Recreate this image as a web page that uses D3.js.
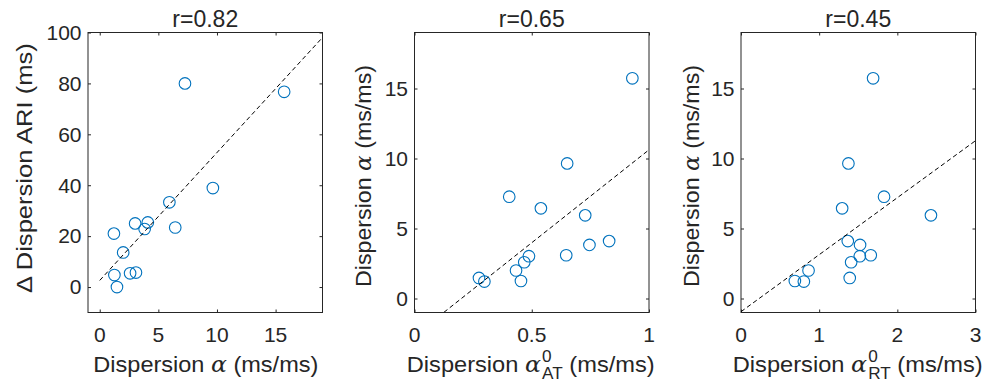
<!DOCTYPE html>
<html>
<head>
<meta charset="utf-8">
<script src="https://cdn.jsdelivr.net/npm/d3@7"></script>
<style>
html,body{margin:0;padding:0;background:#fff;}
svg{display:block;}
text{font-family:"Liberation Sans",Arial,Helvetica,sans-serif;fill:#262626;white-space:pre;}
</style>
</head>
<body>
<svg id="chart" width="1000" height="392"></svg>
<script>
// ---------------- data ----------------
const alphaDisp = [15.73, 9.65, 7.27, 6.44, 5.94, 4.10, 3.83, 3.09, 3.02, 2.59, 2.00, 1.47, 1.25, 1.21];
const ariDisp   = [76.7, 38.9, 80.0, 23.4, 33.3, 25.4, 22.8, 5.7, 25.0, 5.4, 13.6, 0.0, 4.7, 21.0];
const alphaAT   = [0.929, 0.651, 0.404, 0.539, 0.728, 0.830, 0.746, 0.647, 0.488, 0.468, 0.433, 0.275, 0.454, 0.298];
const alphaRT   = [1.69, 1.374, 1.83, 1.294, 2.43, 1.366, 1.523, 1.66, 1.52, 1.409, 0.864, 1.391, 0.689, 0.804];

const titles = ["r=0.82", "r=0.65", "r=0.45"];
const xTicks1 = [0, 5, 10, 15];
const yTicks1 = [0, 20, 40, 60, 80, 100];
const xTicks2 = [0, 0.5, 1];
const xTicks3 = [0, 1, 2, 3];
const yTicks23 = [0, 5, 10, 15];
const xDomain1 = [-1, 19], yDomain1 = [-10, 100];
const xDomain2 = [0, 1],   yDomain2 = [-1, 19];
const xDomain3 = [0, 3],   yDomain3 = [-1, 19];

// ---------------- layout ----------------
const svg = d3.select("#chart");
const plotTop = 32.5, plotBottom = 312.5;
const panelW = 234.5;
const lefts = [88, 414.5, 741];
const blue = "#0072BD", ink = "#262626";
const FS = 21, LFS = 22;

const panels = [
  {x: alphaDisp, y: ariDisp, xd: xDomain1, yd: yDomain1, xt: xTicks1, yt: yTicks1, title: titles[0],
   xl: {pre: "Dispersion ", sym: "α", post: " (ms/ms)", len: 225, dx: 0.6},
   yl: {pre: "Δ Dispersion ARI (ms)", len: 250, cx: 31.5, cy: 168}},
  {x: alphaAT, y: alphaDisp, xd: xDomain2, yd: yDomain2, xt: xTicks2, yt: yTicks23, title: titles[1],
   xl: {pre: "Dispersion ", sym: "α", sup: "0", sub: "AT", post: " (ms/ms)", len: 248, dx: -1},
   yl: {pre: "Dispersion ", sym: "α", post: " (ms/ms)", len: 222, cx: 371, cy: 176}},
  {x: alphaRT, y: alphaDisp, xd: xDomain3, yd: yDomain3, xt: xTicks3, yt: yTicks23, title: titles[2],
   xl: {pre: "Dispersion ", sym: "α", sup: "0", sub: "RT", post: " (ms/ms)", len: 250, dx: -0.5},
   yl: {pre: "Dispersion ", sym: "α", post: " (ms/ms)", len: 222, cx: 699, cy: 176}}
];

function makeLabel(parent, spec, cx, cy, rot) {
  const g = parent.append("g");
  const inner = g.append("g");
  let x = 0;
  function add(txt, size, dy, style) {
    const t = inner.append("text").attr("x", x).attr("y", dy)
      .attr("xml:space", "preserve").style("font-size", size + "px").text(txt);
    if (style) for (const k in style) t.style(k, style[k]);
    return t.node().getComputedTextLength();
  }
  x += add(spec.pre, LFS, 0);
  if (spec.sym) {
    x += add(spec.sym, LFS, 0, {"font-family": "'DejaVu Serif','Liberation Serif',serif", "font-style": "italic"});
  }
  if (spec.sup || spec.sub) {
    x += 1;
    const w1 = add(spec.sup, 16, -10);
    const w2 = add(spec.sub, 16, 7);
    x += Math.max(w1, w2);
  }
  if (spec.post) x += add(spec.post, LFS, 0);
  const s = spec.len / x;
  inner.attr("transform", `scale(${s},1) translate(${-x / 2},0)`);
  g.attr("transform", `translate(${cx},${cy}) rotate(${rot})`);
}

panels.forEach((p, i) => {
  const L = lefts[i], R = L + panelW;
  const xs = d3.scaleLinear().domain(p.xd).range([L, R]);
  const ys = d3.scaleLinear().domain(p.yd).range([plotBottom, plotTop]);
  const g = svg.append("g");

  const clipId = "clip" + i;
  svg.append("clipPath").attr("id", clipId).append("rect")
    .attr("x", L).attr("y", plotTop).attr("width", panelW).attr("height", plotBottom - plotTop);

  // frame
  g.append("rect").attr("x", L).attr("y", plotTop).attr("width", panelW).attr("height", plotBottom - plotTop)
    .attr("fill", "none").attr("stroke", ink).attr("stroke-width", 1);

  // ticks (inward, all four sides) via d3 axes
  const tl = 3;
  const axB = g.append("g").attr("transform", `translate(0,${plotBottom})`)
    .call(d3.axisTop(xs).tickValues(p.xt).tickSize(tl).tickFormat(""));
  const axT = g.append("g").attr("transform", `translate(0,${plotTop})`)
    .call(d3.axisBottom(xs).tickValues(p.xt).tickSize(tl).tickFormat(""));
  const axL = g.append("g").attr("transform", `translate(${L},0)`)
    .call(d3.axisRight(ys).tickValues(p.yt).tickSize(tl).tickFormat(""));
  const axR = g.append("g").attr("transform", `translate(${R},0)`)
    .call(d3.axisLeft(ys).tickValues(p.yt).tickSize(tl).tickFormat(""));
  [axB, axT, axL, axR].forEach(a => { a.select(".domain").remove(); a.selectAll("line").attr("stroke", ink); });

  // tick labels
  g.selectAll(".xtl").data(p.xt).enter().append("text")
    .attr("x", d => xs(d)).attr("y", 342).attr("text-anchor", "middle")
    .style("font-size", FS + "px").text(d => d3.format("~g")(d));
  g.selectAll(".ytl").data(p.yt).enter().append("text")
    .attr("x", L - 6.5).attr("y", d => ys(d) + 7.3).attr("text-anchor", "end")
    .style("font-size", FS + "px").text(d => d3.format("~g")(d));

  // scatter
  const pts = p.x.map((v, k) => [v, p.y[k]]);
  g.append("g").selectAll("circle").data(pts).enter().append("circle")
    .attr("cx", d => xs(d[0])).attr("cy", d => ys(d[1])).attr("r", 5.8)
    .attr("fill", "none").attr("stroke", blue).attr("stroke-width", 1.1);

  // least-squares fit line, from x=0 to axis max
  const mx = d3.mean(p.x), my = d3.mean(p.y);
  const sxy = d3.sum(p.x, (v, k) => (v - mx) * (p.y[k] - my));
  const sxx = d3.sum(p.x, v => (v - mx) * (v - mx));
  const slope = sxy / sxx, icpt = my - slope * mx;
  const fitX = [0, p.xd[1]];
  g.append("path").attr("clip-path", `url(#${clipId})`)
    .datum(fitX.map(v => [v, icpt + slope * v]))
    .attr("d", d3.line().x(d => xs(d[0])).y(d => ys(d[1])))
    .attr("fill", "none").attr("stroke", "#000").attr("stroke-width", 1)
    .attr("stroke-dasharray", "4.5,3");

  // title
  g.append("text").attr("x", (L + R) / 2).attr("y", 27).attr("text-anchor", "middle")
    .style("font-size", "23px").text(p.title);

  // axis labels
  makeLabel(g, p.xl, (L + R) / 2 + p.xl.dx, 372, 0);
  makeLabel(g, p.yl, p.yl.cx, p.yl.cy, -90);
});
</script>
</body>
</html>
